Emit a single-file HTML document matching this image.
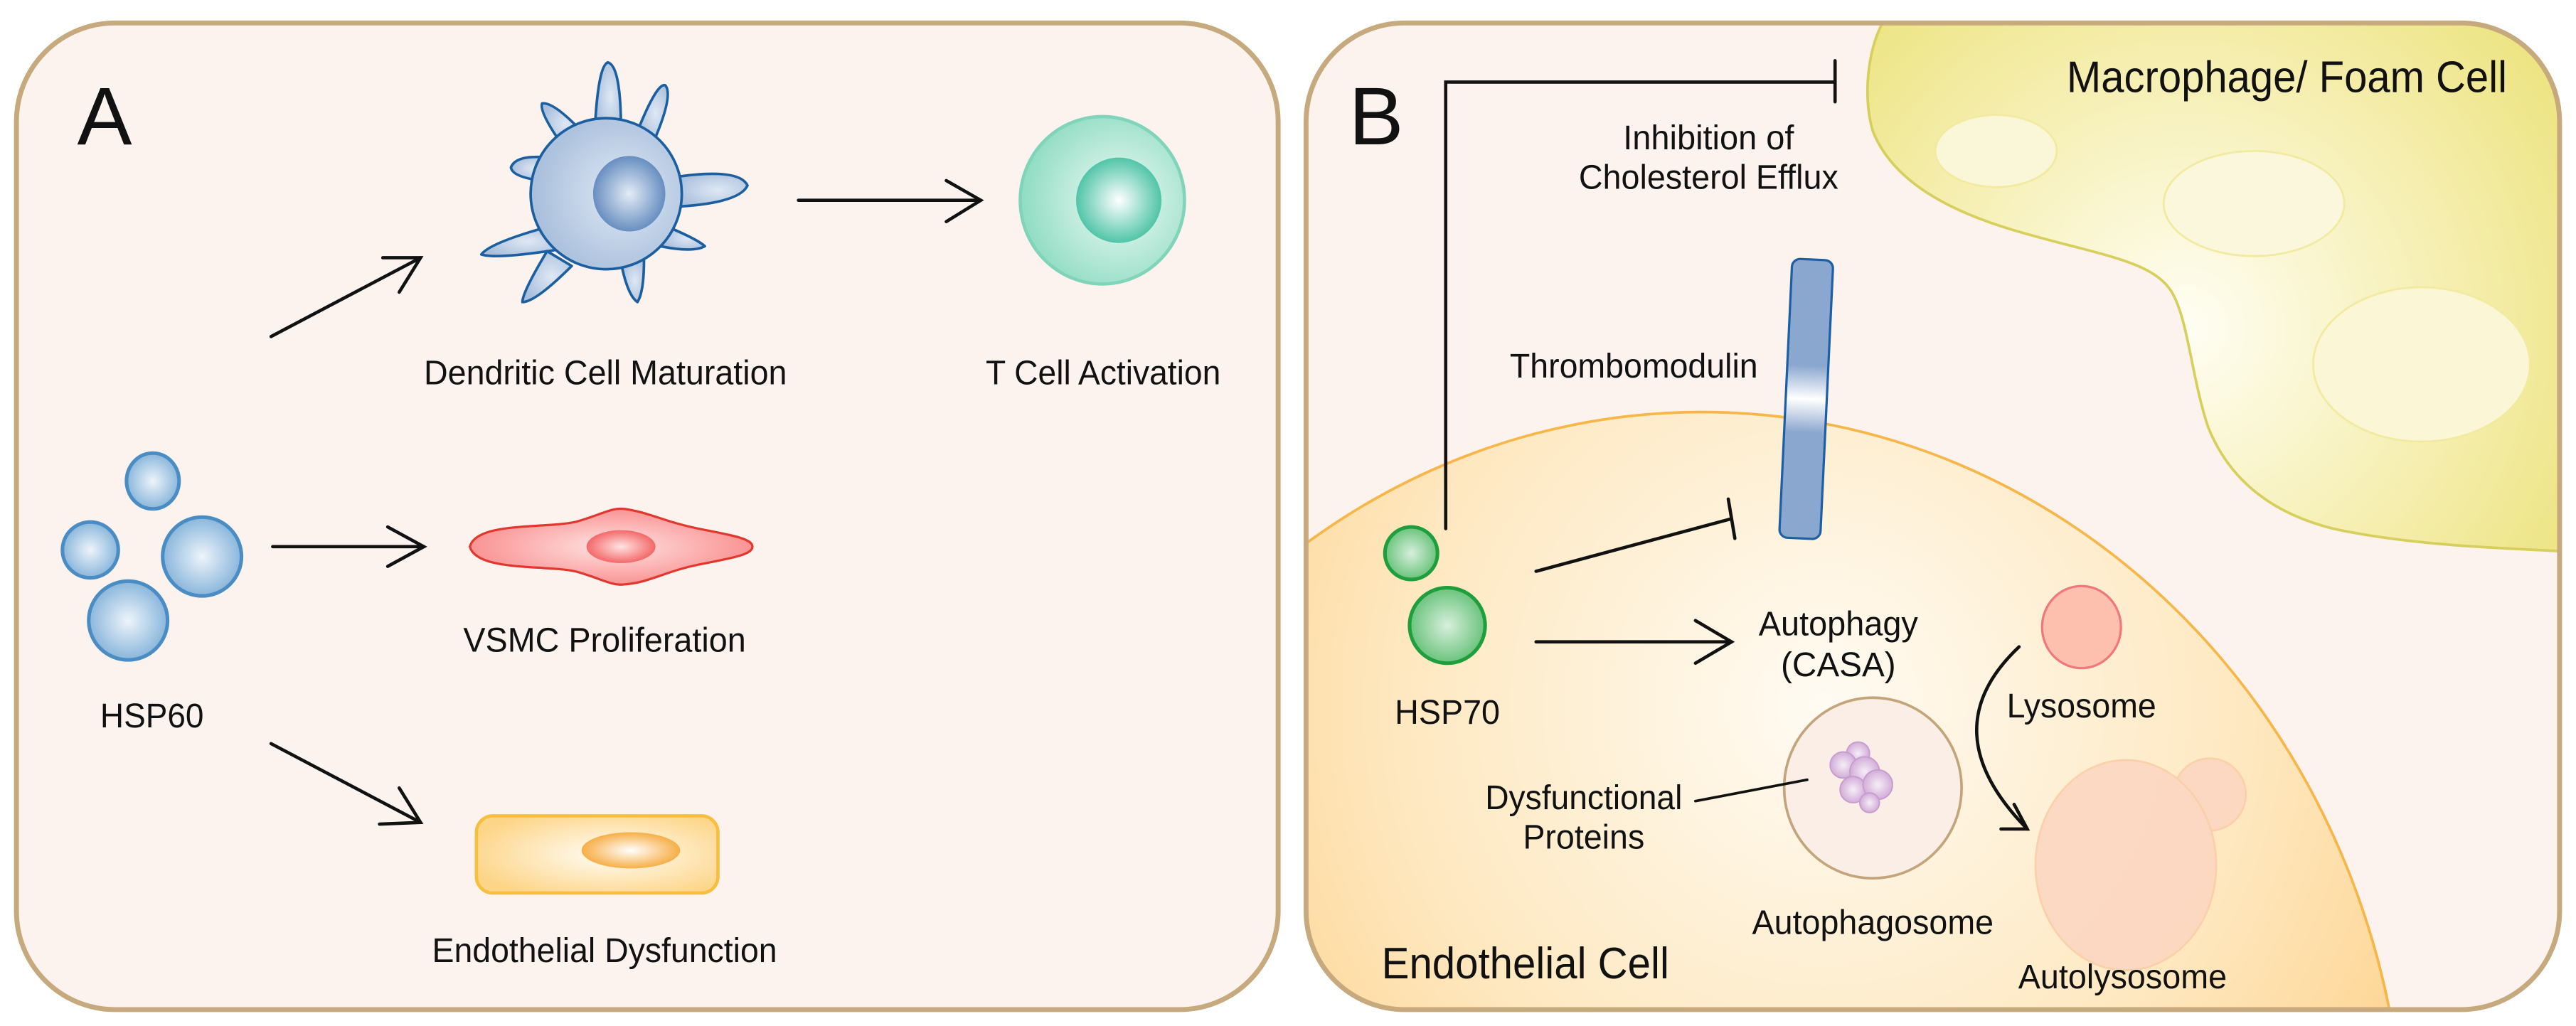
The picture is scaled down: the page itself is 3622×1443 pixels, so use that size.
<!DOCTYPE html>
<html><head><meta charset="utf-8"><style>
html,body{margin:0;padding:0;background:#fff;width:3622px;height:1443px;overflow:hidden;}
svg{display:block;}
text{font-family:"Liberation Sans",sans-serif;fill:#111;}
</style></head><body>
<svg width="3622" height="1443" viewBox="0 0 1568 625" preserveAspectRatio="none" xmlns="http://www.w3.org/2000/svg">
<defs>
<radialGradient id="gBlue" cx="50%" cy="50%" r="55%"><stop offset="0" stop-color="#eef4fb"/><stop offset="1" stop-color="#7fb0d8"/></radialGradient>
<radialGradient id="gDC" cx="60%" cy="50%" r="60%"><stop offset="0" stop-color="#dfe8f4"/><stop offset="1" stop-color="#a9bfdc"/></radialGradient>
<radialGradient id="gDCn" cx="50%" cy="50%" r="55%"><stop offset="0" stop-color="#e4ecf6"/><stop offset="1" stop-color="#5b85bb"/></radialGradient>
<radialGradient id="gT" cx="60%" cy="50%" r="60%"><stop offset="0" stop-color="#effaf6"/><stop offset="1" stop-color="#8fdcc3"/></radialGradient>
<radialGradient id="gTn" cx="50%" cy="50%" r="55%"><stop offset="0" stop-color="#ffffff"/><stop offset="1" stop-color="#3fbf9f"/></radialGradient>
<radialGradient id="gRed" cx="50%" cy="50%" r="55%"><stop offset="0" stop-color="#ffe3e3"/><stop offset="1" stop-color="#f98b8b"/></radialGradient>
<radialGradient id="gRedn" cx="50%" cy="50%" r="55%"><stop offset="0" stop-color="#ffe4e4"/><stop offset="1" stop-color="#f25c5c"/></radialGradient>
<radialGradient id="gYel" cx="55%" cy="50%" r="60%"><stop offset="0" stop-color="#fffdf6"/><stop offset="1" stop-color="#fdd588"/></radialGradient>
<radialGradient id="gYeln" cx="50%" cy="50%" r="55%"><stop offset="0" stop-color="#ffffff"/><stop offset="1" stop-color="#f6a634"/></radialGradient>
<radialGradient id="gGreen" cx="50%" cy="50%" r="55%"><stop offset="0" stop-color="#d8efdc"/><stop offset="1" stop-color="#5fbf73"/></radialGradient>
<radialGradient id="gEndo" cx="1110" cy="430" r="470" gradientUnits="userSpaceOnUse"><stop offset="0" stop-color="#fffbf3"/><stop offset="0.55" stop-color="#fee8c0"/><stop offset="1" stop-color="#fdcd80"/></radialGradient>
<radialGradient id="gMac" cx="1330" cy="200" r="280" gradientUnits="userSpaceOnUse"><stop offset="0" stop-color="#fffef4"/><stop offset="0.6" stop-color="#f5eeae"/><stop offset="1" stop-color="#ece37e"/></radialGradient>
<linearGradient id="gTM" x1="0" y1="0" x2="0" y2="1"><stop offset="0" stop-color="#8aa7cf"/><stop offset="0.38" stop-color="#8aa7cf"/><stop offset="0.5" stop-color="#ffffff"/><stop offset="0.62" stop-color="#8aa7cf"/><stop offset="1" stop-color="#8aa7cf"/></linearGradient>
<radialGradient id="gPurp" cx="50%" cy="50%" r="55%"><stop offset="0" stop-color="#f5eef7"/><stop offset="1" stop-color="#cfa6d6"/></radialGradient>
<clipPath id="clipB"><rect x="795" y="15" width="762" height="600" rx="58"/></clipPath>
</defs>

<rect x="10" y="14" width="768" height="601" rx="60" fill="#fdf3ee" stroke="#c7a97e" stroke-width="3"/>
<text x="47" y="88" font-size="50">A</text>

<g fill="url(#gDC)" stroke="#1c5fa0" stroke-width="1.6" stroke-linejoin="round">
<path d="M362,80 Q364,40 370,38 Q378,40 378,80 Z"/>
<path d="M388,80 Q400,50 405,52 Q410,58 398,86 Z"/>
<path d="M342,88 Q328,68 330,63 Q337,62 354,80 Z"/>
<path d="M330,110 Q312,108 311,102 Q314,94 334,96 Z"/>
<path d="M410,108 Q450,102 455,113 Q450,124 410,126 Z"/>
<path d="M334,138 Q298,148 293,155 Q302,158 340,152 Z"/>
<path d="M406,138 Q425,146 429,150 Q422,154 402,150 Z"/>
<path d="M333,153 Q318,178 318,184 Q326,184 348,162 Z"/>
<path d="M378,160 Q382,180 388,184 Q392,178 392,158 Z"/>
</g>
<circle cx="369" cy="118" r="46" fill="url(#gDC)" stroke="#1c5fa0" stroke-width="1.6"/>
<circle cx="369" cy="118" r="44" fill="url(#gDC)"/>
<ellipse cx="383" cy="118" rx="22" ry="23" fill="url(#gDCn)"/>

<ellipse cx="671" cy="122" rx="50" ry="51" fill="url(#gT)" stroke="#7fd4ba" stroke-width="2"/>
<ellipse cx="681" cy="122" rx="26" ry="26" fill="url(#gTn)"/>

<g fill="url(#gBlue)" stroke="#4a8cc4" stroke-width="2.2">
<ellipse cx="93" cy="293" rx="16" ry="17"/>
<ellipse cx="55" cy="335" rx="17" ry="17"/>
<ellipse cx="123" cy="339" rx="24" ry="24"/>
<ellipse cx="78" cy="378" rx="24" ry="24"/>
</g>

<path d="M286,333 C290,318 330,322 350,318 C365,314 372,309 380,310 C395,312 405,318 425,322 C445,326 458,328 458,333 C458,338 445,340 425,344 C405,348 395,355 380,356 C372,357 365,352 350,348 C330,344 290,348 286,333 Z" fill="url(#gRed)" stroke="#e2372c" stroke-width="1.4"/>
<ellipse cx="378" cy="333" rx="21" ry="10" fill="url(#gRedn)"/>

<rect x="290" y="497" width="147" height="47" rx="10" fill="url(#gYel)" stroke="#f8be3e" stroke-width="2"/>
<ellipse cx="384" cy="518" rx="30" ry="11" fill="url(#gYeln)"/>

<g stroke="#111" stroke-width="2" fill="none" stroke-linecap="round">
<line x1="486" y1="122" x2="597" y2="122"/><polyline points="576,110 597,122 576,135"/>
<line x1="165" y1="205" x2="256" y2="157"/><polyline points="233,157 256,157 243,178"/>
<line x1="166" y1="333" x2="258" y2="333"/><polyline points="236,321 258,333 236,345"/>
<line x1="165" y1="453" x2="256" y2="501"/><polyline points="243,480 256,501 231,502"/>
</g>

<g font-size="21">
<text x="258" y="234" textLength="221" lengthAdjust="spacingAndGlyphs">Dendritic Cell Maturation</text>
<text x="600" y="234" textLength="143" lengthAdjust="spacingAndGlyphs">T Cell Activation</text>
<text x="282" y="397" textLength="172" lengthAdjust="spacingAndGlyphs">VSMC Proliferation</text>
<text x="61" y="443" textLength="63" lengthAdjust="spacingAndGlyphs">HSP60</text>
<text x="263" y="586" textLength="210" lengthAdjust="spacingAndGlyphs">Endothelial Dysfunction</text>
</g>

<rect x="795" y="14" width="763" height="601" rx="60" fill="#fdf3ee"/>
<g clip-path="url(#clipB)">
<path d="M1148,10 C1136,30 1134,60 1140,80 C1152,110 1185,128 1225,140 C1275,155 1310,158 1322,178 C1332,195 1334,230 1344,260 C1356,290 1380,312 1420,322 C1470,333 1530,334 1562,336 L1562,10 Z" fill="url(#gMac)" stroke="#d7cf5c" stroke-width="1.6"/>
<ellipse cx="1215" cy="92" rx="37" ry="22" fill="#faf6d8" stroke="#f2ea9e" stroke-width="1.2"/>
<ellipse cx="1372" cy="124" rx="55" ry="32" fill="#fbf7dc" stroke="#f2ea9e" stroke-width="1.2"/>
<ellipse cx="1474" cy="222" rx="66" ry="47" fill="#fbf6d6" stroke="#f2ea9e" stroke-width="1.2"/>
<ellipse cx="1036" cy="712" rx="428" ry="461" fill="url(#gEndo)" stroke="#f8b548" stroke-width="1.6"/>
</g>
<rect x="795" y="14" width="763" height="601" rx="60" fill="none" stroke="#c7a97e" stroke-width="3"/>
<text x="821" y="88" font-size="50">B</text>

<g transform="rotate(2.7 1099 242)">
<rect x="1087" y="158" width="25" height="170" rx="5" fill="url(#gTM)" stroke="#1c5fa4" stroke-width="1.4"/>
</g>

<g fill="url(#gGreen)" stroke="#1f9e3c" stroke-width="2.2">
<ellipse cx="859" cy="337" rx="16" ry="16"/>
<ellipse cx="881" cy="381" rx="23" ry="23"/>
</g>

<ellipse cx="1267" cy="382" rx="24" ry="25" fill="#fdc0ae" stroke="#f07878" stroke-width="1.4"/>
<ellipse cx="1140" cy="480" rx="54" ry="55" fill="#fbeee6" stroke="#c4a57a" stroke-width="1.6"/>
<g fill="url(#gPurp)" stroke="#c79ccf" stroke-width="0.8">
<circle cx="1131" cy="459" r="7"/><circle cx="1122" cy="466" r="8"/><circle cx="1135" cy="470" r="9"/>
<circle cx="1128" cy="481" r="8"/><circle cx="1143" cy="478" r="9"/><circle cx="1138" cy="489" r="6"/>
</g>
<g fill="#fcd8c2" stroke="#fbcfa8" stroke-width="1.2" opacity="0.95">
<circle cx="1345" cy="484" r="22"/>
<ellipse cx="1294" cy="527" rx="55" ry="64"/>
</g>

<g stroke="#111" stroke-width="2" fill="none" stroke-linecap="round">
<polyline points="880,322 880,50 1117,50"/><line x1="1117" y1="37" x2="1117" y2="62"/>
<line x1="935" y1="348" x2="1054" y2="316"/><line x1="1052" y1="304" x2="1056" y2="328"/>
<line x1="935" y1="391" x2="1054" y2="391"/><polyline points="1032,378 1054,391 1032,404"/>
<path d="M1229,394 Q1175,445 1234,505"/><polyline points="1226,490 1234,505 1218,505"/>
<line x1="1032" y1="488" x2="1100" y2="475" stroke-width="1.6"/>
</g>

<g font-size="21">
<text x="1040" y="91" text-anchor="middle" textLength="104" lengthAdjust="spacingAndGlyphs">Inhibition of</text>
<text x="1040" y="115" text-anchor="middle" textLength="158" lengthAdjust="spacingAndGlyphs">Cholesterol Efflux</text>
<text x="919" y="230" textLength="151" lengthAdjust="spacingAndGlyphs">Thrombomodulin</text>
<text x="849" y="441" textLength="64" lengthAdjust="spacingAndGlyphs">HSP70</text>
<text x="1119" y="387" text-anchor="middle" textLength="97" lengthAdjust="spacingAndGlyphs">Autophagy</text>
<text x="1119" y="412" text-anchor="middle" textLength="70" lengthAdjust="spacingAndGlyphs">(CASA)</text>
<text x="1267" y="437" text-anchor="middle" textLength="91" lengthAdjust="spacingAndGlyphs">Lysosome</text>
<text x="1024" y="493" text-anchor="end" textLength="120" lengthAdjust="spacingAndGlyphs">Dysfunctional</text>
<text x="964" y="517" text-anchor="middle" textLength="74" lengthAdjust="spacingAndGlyphs">Proteins</text>
<text x="1140" y="569" text-anchor="middle" textLength="147" lengthAdjust="spacingAndGlyphs">Autophagosome</text>
<text x="1292" y="602" text-anchor="middle" textLength="127" lengthAdjust="spacingAndGlyphs">Autolysosome</text>
</g>
<g font-size="27">
<text x="1258" y="56" textLength="268" lengthAdjust="spacingAndGlyphs">Macrophage/ Foam Cell</text>
<text x="841" y="596" textLength="175" lengthAdjust="spacingAndGlyphs">Endothelial Cell</text>
</g>
</svg>
</body></html>
